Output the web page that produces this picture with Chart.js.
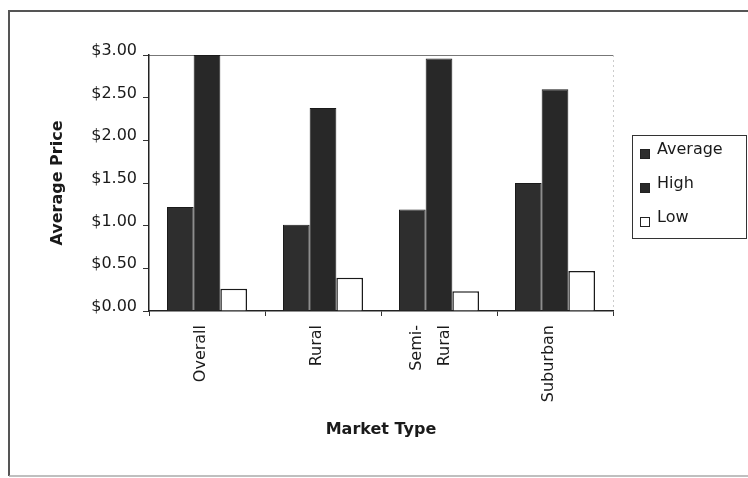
<!DOCTYPE html>
<html>
<head>
<meta charset="utf-8">
<script src="https://cdn.jsdelivr.net/npm/chart.js@4.4.0/dist/chart.umd.min.js"></script>
<style>
  html, body { margin: 0; padding: 0; background: #fff; }
  canvas { display: block; }
</style>
</head>
<body>
<canvas id="chart" width="748" height="478"></canvas>
<script>
// values
const marketTypes = ['Overall', 'Rural', ['Semi-', 'Rural'], 'Suburban'];
const averagePrice = [1.22, 1.01, 1.19, 1.50];
const highPrice = [3.00, 2.38, 2.96, 2.60];
const lowPrice = [0.26, 0.39, 0.23, 0.47];
const priceTicks = [0, 0.5, 1, 1.5, 2, 2.5, 3];

Chart.defaults.font.family = '"DejaVu Sans", sans-serif';
Chart.defaults.color = '#222';

const isTwoLine = (i) => Array.isArray(marketTypes[i]);

// outer frame + plot area edges (top line, faint right edge)
const framePlugin = {
  id: 'frame',
  beforeDraw(chart) {
    const { ctx, chartArea: a } = chart;
    ctx.save();
    ctx.fillStyle = '#fff';
    ctx.fillRect(0, 0, chart.width, chart.height);
    ctx.strokeStyle = '#555';
    ctx.lineWidth = 2;
    ctx.beginPath();
    ctx.moveTo(9, 476);
    ctx.lineTo(9, 11);
    ctx.lineTo(chart.width, 11);
    ctx.stroke();
    ctx.strokeStyle = '#aaa';
    ctx.lineWidth = 1.5;
    ctx.beginPath();
    ctx.moveTo(9, 476);
    ctx.lineTo(chart.width, 476);
    ctx.stroke();
    ctx.strokeStyle = '#777';
    ctx.lineWidth = 1;
    ctx.beginPath();
    ctx.moveTo(a.left, a.top + 0.5);
    ctx.lineTo(a.right, a.top + 0.5);
    ctx.stroke();
    ctx.strokeStyle = '#ccc';
    ctx.setLineDash([2, 3]);
    ctx.beginPath();
    ctx.moveTo(a.right + 0.5, a.top);
    ctx.lineTo(a.right + 0.5, a.bottom);
    ctx.stroke();
    ctx.restore();
  }
};

// boxed legend on the right, built from the datasets
const boxLegend = {
  id: 'boxLegend',
  afterDraw(chart) {
    const { ctx } = chart;
    const x = 632, y = 135, w = 114, h = 103;
    ctx.save();
    ctx.strokeStyle = '#333';
    ctx.lineWidth = 1;
    ctx.strokeRect(x + 0.5, y + 0.5, w, h);
    ctx.font = '16px "DejaVu Sans", sans-serif';
    ctx.textBaseline = 'middle';
    chart.data.datasets.forEach((ds, i) => {
      const cy = y + 18 + i * 34;
      ctx.fillStyle = ds.backgroundColor;
      ctx.fillRect(x + 8, cy - 4, 9, 9);
      ctx.strokeStyle = '#222';
      ctx.strokeRect(x + 8.5, cy - 3.5, 9, 9);
      ctx.fillStyle = '#1a1a1a';
      ctx.fillText(ds.label, x + 25, cy - 3);
    });
    ctx.restore();
  }
};

new Chart(document.getElementById('chart'), {
  type: 'bar',
  data: {
    labels: marketTypes,
    datasets: [
      { label: 'Average', data: averagePrice, backgroundColor: '#2e2e2e', borderColor: '#1a1a1a', borderWidth: 1 },
      { label: 'High', data: highPrice, backgroundColor: '#282828', borderColor: '#1a1a1a', borderWidth: 1 },
      { label: 'Low', data: lowPrice, backgroundColor: '#ffffff', borderColor: '#1a1a1a', borderWidth: 1.5 }
    ]
  },
  options: {
    responsive: false,
    animation: false,
    events: [],
    layout: { padding: { top: 55, right: 135, bottom: 39, left: 48 } },
    datasets: { bar: { categoryPercentage: 0.69, barPercentage: 1 } },
    plugins: {
      legend: { display: false },
      tooltip: { enabled: false }
    },
    scales: {
      x: {
        afterFit: (s) => { s.height = 128; },
        grid: { drawOnChartArea: false, offset: true, tickLength: 5, color: '#333' },
        border: { color: '#222', width: 1.5 },
        ticks: {
          color: '#1a1a1a',
          // single names get an empty first line so the two-line "Semi- / Rural" can sit centred on its tick
          callback: (v, i) => (isTwoLine(i) ? marketTypes[i] : ['', marketTypes[i]]),
          font: (c) => ({ size: 16, lineHeight: isTwoLine(c.index) ? 1.75 : 1 }),
          minRotation: 90,
          maxRotation: 90,
          autoSkip: false,
          padding: 9,
          labelOffset: -22
        },
        title: {
          display: true,
          text: 'Market Type',
          color: '#1a1a1a',
          font: { size: 16, weight: 'bold' },
          padding: 0
        }
      },
      y: {
        min: 0,
        max: 3,
        afterBuildTicks: (s) => { s.ticks = priceTicks.map((v) => ({ value: v })); },
        afterFit: (s) => { s.width = 101; },
        grid: { drawOnChartArea: false, tickLength: 6, color: '#333' },
        border: { color: '#222', width: 1.5 },
        ticks: {
          color: '#1a1a1a',
          font: { size: 16 },
          padding: 6,
          labelOffset: -4,
          callback: (v) => '$' + Number(v).toFixed(2)
        },
        title: {
          display: true,
          text: 'Average Price',
          color: '#1a1a1a',
          font: { size: 16, weight: 'bold' },
          padding: 0
        }
      }
    }
  },
  plugins: [framePlugin, boxLegend]
});
</script>
</body>
</html>
